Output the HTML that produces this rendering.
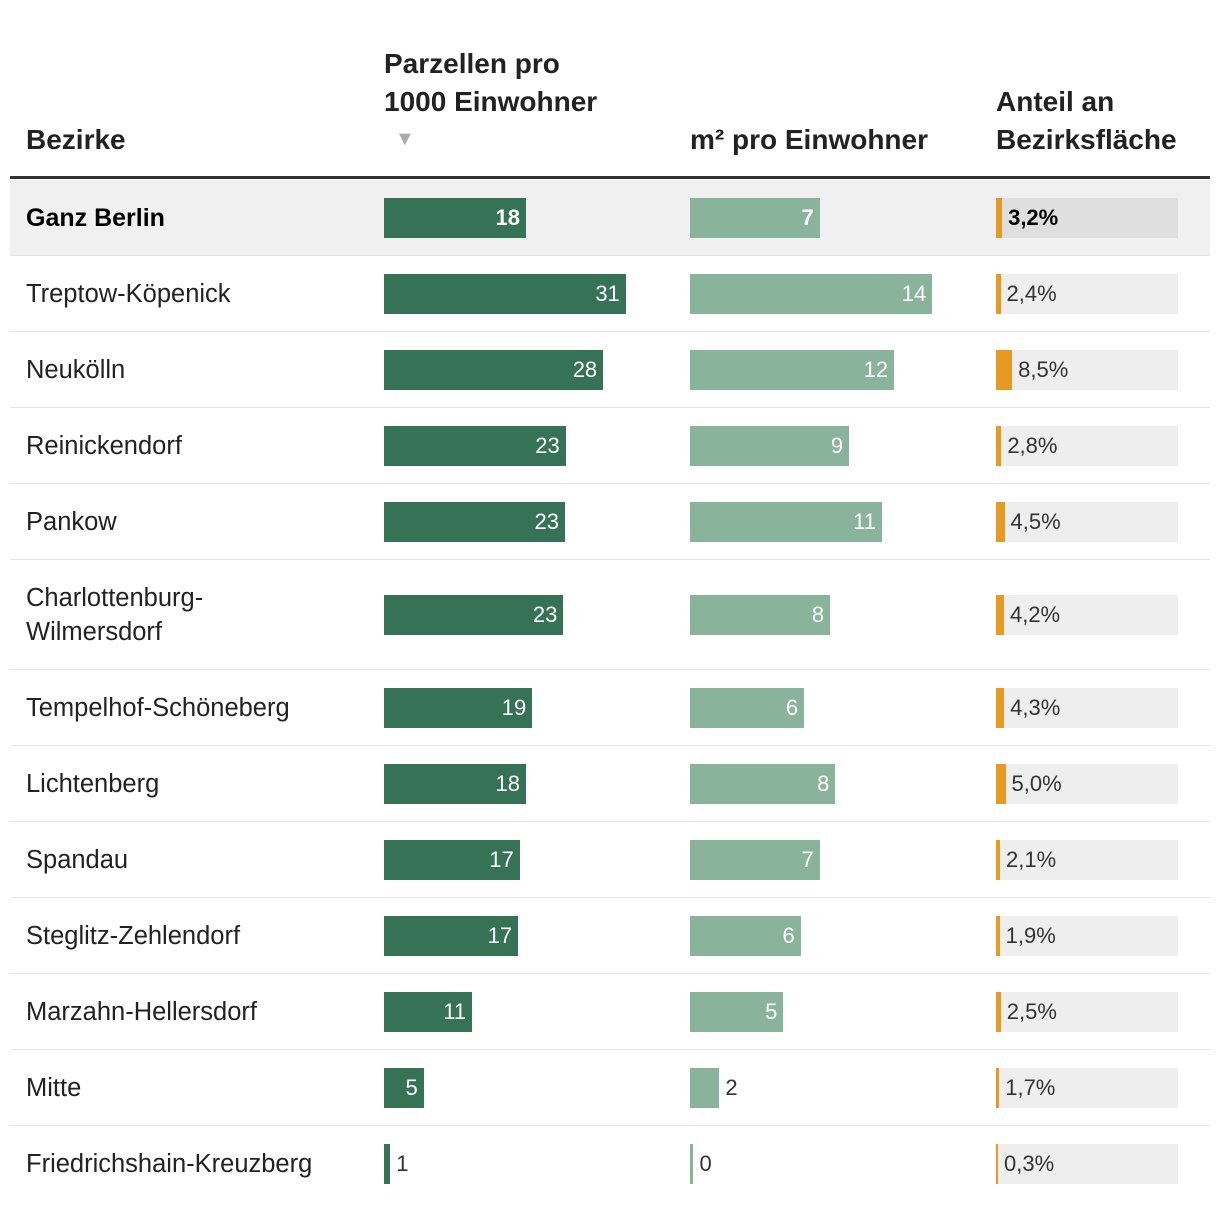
<!DOCTYPE html>
<html><head><meta charset="utf-8"><style>
body{margin:0;width:1220px;height:1210px;background:#fff;font-family:"Liberation Sans",sans-serif;position:relative;overflow:hidden;color:#222}
.a{position:absolute}
.h{font-weight:bold;font-size:28px;line-height:38px;color:#222}
.lbl{font-size:25.5px;line-height:34px;color:#222}
.v{font-size:22px;line-height:40px}
</style></head><body>
<div class="a h" style="left:26px;top:121px">Bezirke</div>
<div class="a h" style="left:384px;top:45px">Parzellen pro<br>1000 Einwohner</div>
<div class="a" style="left:395px;top:128px;color:#aaa;font-size:20px">▼</div>
<div class="a h" style="left:690px;top:121px">m² pro Einwohner</div>
<div class="a h" style="left:996px;top:83px">Anteil an<br>Bezirksfläche</div>
<div class="a" style="left:10px;top:176px;width:1200px;height:3px;background:#333"></div>
<div id="rows"></div>
<script>
const districts=["Ganz Berlin","Treptow-Köpenick","Neukölln","Reinickendorf","Pankow","Charlottenburg-<br>Wilmersdorf","Tempelhof-Schöneberg","Lichtenberg","Spandau","Steglitz-Zehlendorf","Marzahn-Hellersdorf","Mitte","Friedrichshain-Kreuzberg"];
const parzellen=[18.2,31,28.1,23.3,23.2,23,19,18.2,17.4,17.2,11.3,5.1,0.8];
const parzLabels=["18","31","28","23","23","23","19","18","17","17","11","5","1"];
const m2=[7.5,14,11.8,9.2,11.1,8.1,6.6,8.4,7.5,6.4,5.4,1.7,0.2];
const m2Labels=["7","14","12","9","11","8","6","8","7","6","5","2","0"];
const anteil=[3.2,2.4,8.5,2.8,4.5,4.2,4.3,5.0,2.1,1.9,2.5,1.7,0.3];
const anteilLabels=["3,2%","2,4%","8,5%","2,8%","4,5%","4,2%","4,3%","5,0%","2,1%","1,9%","2,5%","1,7%","0,3%"];
const x1=v=>v*7.8, x2=v=>v*17.3, x3=v=>v*1.9;
const root=document.getElementById('rows');
let rowY=180;
districts.forEach((d,i)=>{
  const h=i===5?110:76, cy=rowY+h/2, bold=i===0, last=i===districts.length-1;
  const row=document.createElement('div');
  
  
  row.className='a';
  row.style.cssText=`left:10px;top:${rowY}px;width:1200px;height:${h-1}px;background:${bold?'#f0f0f0':'#fff'};border-bottom:1px solid ${last?'#fff':'#e4e4e4'}`;
  root.appendChild(row);
  const lb=document.createElement('div');
  
  
  lb.className='a lbl';
  lb.innerHTML=d;
  lb.style.cssText=`left:26px;top:${cy-(i===5?34:17)}px;font-weight:${bold?'bold':'normal'};color:${bold?'#000':'#222'};${bold?'font-size:25px;':''}`;
  root.appendChild(lb);
  function bar(x0,w,color,label,name){
    const b=document.createElement('div');
    
    
    b.className='a';
    b.style.cssText=`left:${x0}px;top:${cy-20}px;width:${Math.max(w,3)}px;height:40px;background:${color}`;
    root.appendChild(b);
    const t=document.createElement('div');
    
    
    t.className='a v';
    t.textContent=label;
    if(w>35){t.style.cssText=`left:${x0}px;top:${cy-20}px;width:${w-6}px;text-align:right;color:#fff;font-weight:${bold?'bold':'normal'}`;}
    else{t.style.cssText=`left:${x0+Math.max(w,3)+6}px;top:${cy-20}px;color:#333`;}
    root.appendChild(t);
  }
  bar(384,x1(parzellen[i]),'#367256',parzLabels[i],'parzellen-bar');
  bar(690,x2(m2[i]),'#8ab39b',m2Labels[i],'m2-bar');
  const tr=document.createElement('div');
  
  
  tr.className='a';
  tr.style.cssText=`left:996px;top:${cy-20}px;width:182px;height:40px;background:${bold?'#dfdfdf':'#eee'}`;
  root.appendChild(tr);
  const w3=Math.max(x3(anteil[i]),2);
  const ob=document.createElement('div');
  
  
  ob.className='a';
  ob.style.cssText=`left:996px;top:${cy-20}px;width:${w3}px;height:40px;background:#e59a22`;
  root.appendChild(ob);
  const at=document.createElement('div');
  
  
  at.className='a v';
  at.textContent=anteilLabels[i];
  at.style.cssText=`left:${996+w3+6}px;top:${cy-20}px;color:${bold?'#000':'#333'};font-weight:${bold?'bold':'normal'}`;
  root.appendChild(at);
  rowY+=h;
});
</script>
</body></html>
